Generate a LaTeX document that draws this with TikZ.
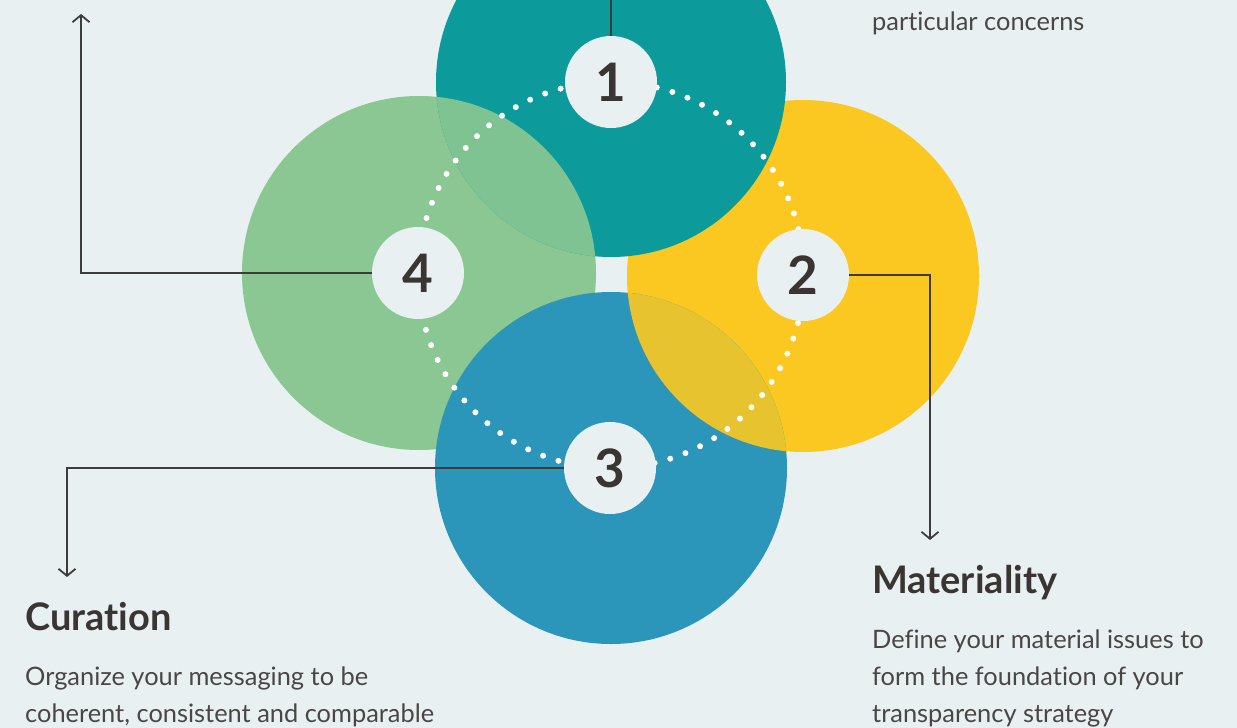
\documentclass[tikz,border=0pt]{standalone}
\usepackage{fontspec}
\setmainfont{Lato}[Ligatures=NoCommon]
\usetikzlibrary{arrows.meta}
\definecolor{bg}{HTML}{E8F0F2}
\definecolor{cteal}{HTML}{0C9A9A}
\definecolor{cyellow}{HTML}{FBC821}
\definecolor{cblue}{HTML}{2B96B9}
\definecolor{cgreen}{HTML}{8AC792}
\definecolor{ink}{HTML}{3A3433}
\definecolor{bodyink}{HTML}{4A4646}
\definecolor{linec}{HTML}{3C3C3C}
\tikzset{
  numdisc/.style={circle, fill=bg, minimum size=92pt, inner sep=0pt, text=ink, font=\fontsize{53}{53}\selectfont\bfseries},
  conn/.style={draw=linec, line width=1.8pt},
  arr/.style={conn, -{Straight Barb[length=7pt,width=17pt,line width=1.8pt]}},
  heading/.style={anchor=base west, inner sep=0pt, text=ink, font=\fontsize{38}{40}\selectfont\bfseries},
  bodytxt/.style={anchor=base west, inner sep=0pt, text=bodyink, font=\fontsize{25.4}{30}\selectfont},
  dotring/.style={draw=white, line width=6pt, line cap=round, dash pattern=on 0pt off 16.2pt}
}
\begin{document}
\begin{tikzpicture}[x=1pt,y=-1pt]
\useasboundingbox (0,0) rectangle (1237,728);
\clip (0,0) rectangle (1237,728);
\fill[bg] (0,0) rectangle (1237,728);
% big circles
\fill[cyellow] (803,276) circle[radius=176];
\fill[cgreen] (419,273) circle[radius=177];
\fill[cteal] (611,82) circle[radius=175];
\begin{scope}
  \clip (611,82) circle[radius=175];
  \fill[cgreen, opacity=0.92] (419,273) circle[radius=177];
\end{scope}
\fill[cblue] (611,468) circle[radius=176];
\begin{scope}
  \clip (611,468) circle[radius=176];
  \fill[cyellow, opacity=0.9] (803,276) circle[radius=176];
\end{scope}
% dotted ring
\draw[dotring] (611,275) circle[radius=193];
% number discs
\node[numdisc] (n1) at (611,82) {1};
\node[numdisc] (n2) at (803,275) {2};
\node[numdisc] (n3) at (610,468) {3};
\node[numdisc] (n4) at (418,273) {4};
% connector end points
\coordinate (t1) at (611,0);
\coordinate (b2) at (930,275);
\coordinate (e2) at (930,540);
\coordinate (b3) at (67,468);
\coordinate (e3) at (67,577);
\coordinate (b4) at (81,273);
\coordinate (e4) at (81,14);
\draw[conn] (n1.north) -- (t1);
\draw[arr] (n2.east) -- (b2) -- (e2);
\draw[arr] (n3.west) -- (b3) -- (e3);
\draw[arr] (n4.west) -- (b4) -- (e4);
% texts
\node[bodytxt] (pc) at (872,30) {particular concerns};
\node[heading] (mat) at (872,593) {Materiality};
\node[bodytxt] (mb1) at (872,648) {Define your material issues to};
\node[bodytxt] (mb2) at (872,685) {form the foundation of your};
\node[bodytxt] (mb3) at (872,722) {transparency strategy};
\node[heading] (cur) at (25,630) {Curation};
\node[bodytxt] (cb1) at (25,685) {Organize your messaging to be};
\node[bodytxt] (cb2) at (25,722) {coherent, consistent and comparable};
\end{tikzpicture}
\end{document}
